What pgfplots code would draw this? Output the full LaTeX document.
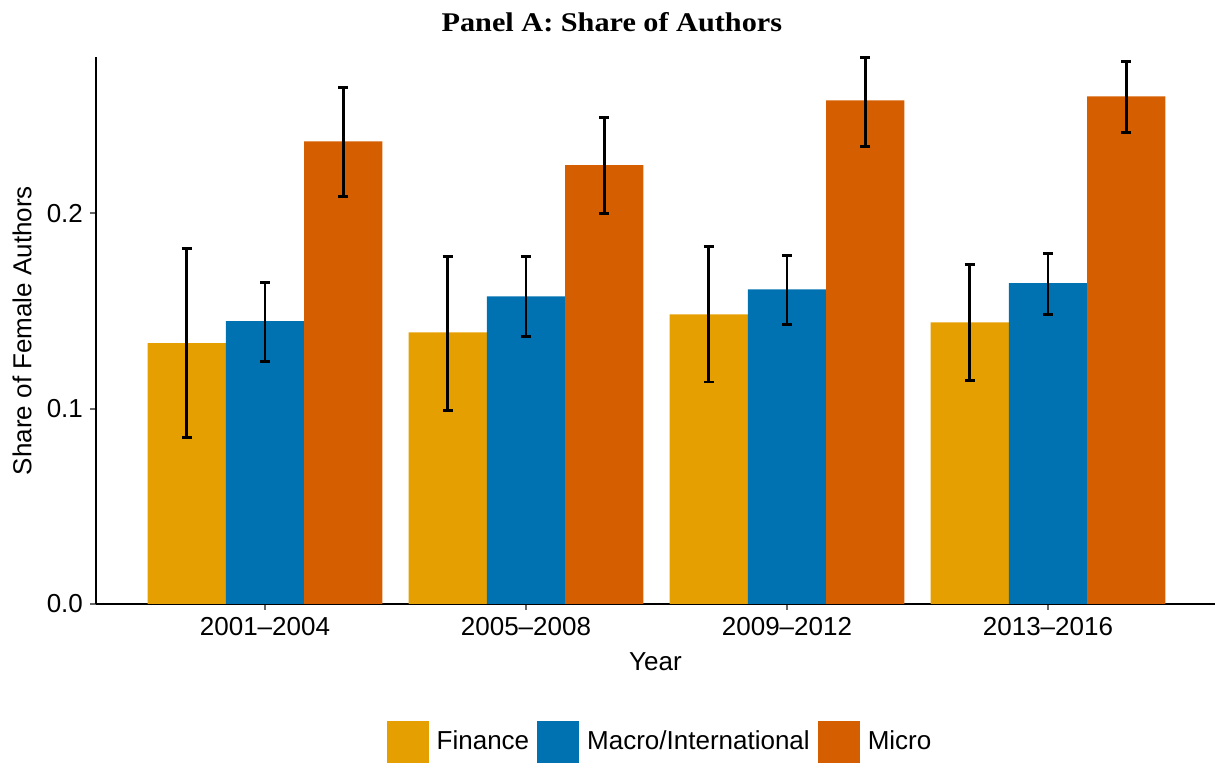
\documentclass[border=0pt]{standalone}
\usepackage{fontspec}
\setmainfont{Liberation Sans}
\newfontfamily\titlefont{Liberation Serif}[FakeStretch=1.12]
\usepackage{pgfplots}
\usepackage{pgfplotstable}
\pgfplotsset{compat=1.18}
\definecolor{cfin}{HTML}{E69F00}
\definecolor{cmac}{HTML}{0072B2}
\definecolor{cmic}{HTML}{D55E00}

\pgfplotstableread{
x    y      ep     em
0.7  0.1335 0.0485 0.0481
1.7  0.1391 0.0389 0.0399
2.7  0.1483 0.0348 0.0347
3.7  0.1442 0.0297 0.0296
}\finance
\pgfplotstableread{
x    y      ep     em
1.0  0.1448 0.0199 0.0205
2.0  0.1575 0.0205 0.0205
3.0  0.1611 0.0174 0.0179
4.0  0.1642 0.0153 0.0159
}\macro
\pgfplotstableread{
x    y      ep     em
1.3  0.2368 0.0277 0.0281
2.3  0.2246 0.0244 0.0246
3.3  0.2578 0.0220 0.0235
4.3  0.2598 0.0179 0.0184
}\micro

\begin{document}
\begin{tikzpicture}
\useasboundingbox (-48pt,-79.5pt) rectangle (559.5pt,302pt);
\begin{axis}[
  at={(0,0)}, anchor=south west,
  scale only axis, width=559.5pt, height=273.5pt,
  xmin=0.3525, xmax=4.64, ymin=0, ymax=0.28,
  axis x line*=bottom, axis y line*=left,
  axis line style={line width=1.1pt, black, -},
  xtick={1,2,3,4},
  xticklabels={2001--2004,2005--2008,2009--2012,2013--2016},
  ytick={0,0.1,0.2}, yticklabels={0.0,0.1,0.2},
  tick align=outside, major tick length=3pt,
  tick style={line width=1pt, black!60},
  ticklabel style={font=\fontsize{13}{15}\selectfont, text=black},
  /pgf/number format/assume math mode=true,
  title={\titlefont\bfseries\fontsize{13.5}{15}\selectfont Panel A: Share of Authors},
  title style={at={(axis description cs:0.461,1)}, anchor=center, yshift=11.5pt},
  xlabel={Year},
  xlabel style={font=\fontsize{13}{15}\selectfont, at={(axis description cs:0.5,0)}, anchor=center, yshift=-29pt},
  ylabel={Share of Female Authors},
  ylabel style={font=\fontsize{13}{15}\selectfont, at={(axis description cs:-0.0661,0.5)}, anchor=center},
  legend columns=3,
  legend style={at={(axis description cs:0.5067,-0.2523)}, anchor=center, draw=none,
    font=\fontsize{13}{15}\selectfont,
    nodes={inner xsep=4pt},
    /tikz/every even column/.append style={column sep=0pt}},
  error bars/error bar style={line width=1.4pt, draw=black},
  error bars/error mark options={rotate=90, line width=1.4pt, draw=black, mark size=2.5pt},
]
\addplot[ybar, bar width=39.15pt, bar shift=0pt, fill=cfin, draw=none,
  legend image code/.code={\fill[cfin] (0pt,-10.5pt) rectangle (21pt,10.5pt);},
  error bars/.cd, y dir=both, y explicit]
  table[x=x, y=y, y error plus=ep, y error minus=em] {\finance};
\addlegendentry{Finance}
\addplot[ybar, bar width=39.15pt, bar shift=0pt, fill=cmac, draw=none,
  legend image code/.code={\fill[cmac] (0pt,-10.5pt) rectangle (21pt,10.5pt);},
  error bars/.cd, y dir=both, y explicit]
  table[x=x, y=y, y error plus=ep, y error minus=em] {\macro};
\addlegendentry{Macro/International}
\addplot[ybar, bar width=39.15pt, bar shift=0pt, fill=cmic, draw=none,
  legend image code/.code={\fill[cmic] (0pt,-10.5pt) rectangle (21pt,10.5pt);},
  error bars/.cd, y dir=both, y explicit]
  table[x=x, y=y, y error plus=ep, y error minus=em] {\micro};
\addlegendentry{Micro}
\end{axis}
\end{tikzpicture}
\end{document}
